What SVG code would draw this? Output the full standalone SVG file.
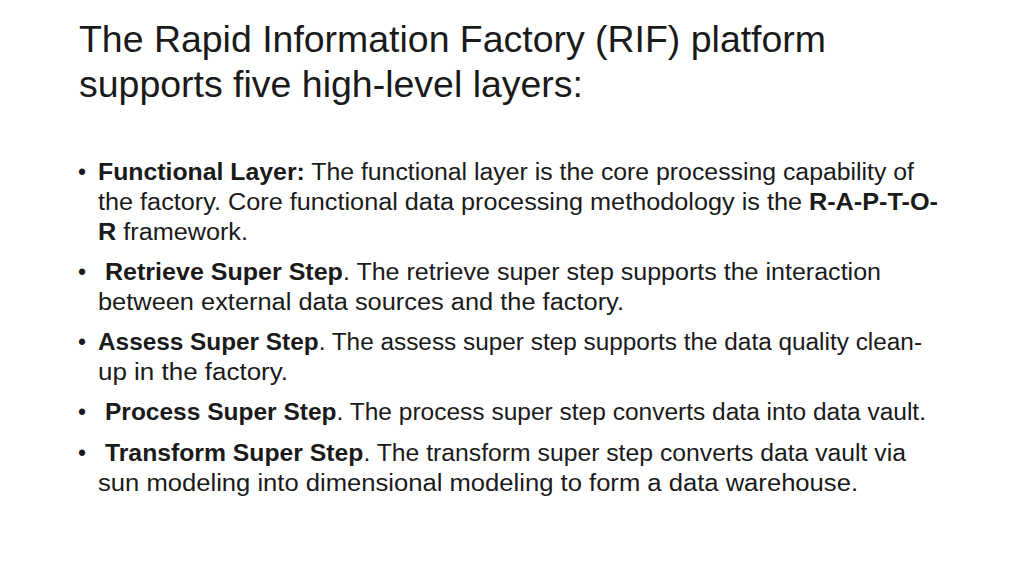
<svg xmlns="http://www.w3.org/2000/svg" width="1024" height="576" viewBox="0 0 1024 576">
<style>
text{font-family:"Liberation Sans",Arial,sans-serif;fill:#1a1a1a}
.t{font-size:36px}
.b{font-size:23px}
.k{font-weight:bold}
</style>
<rect width="1024" height="576" fill="#fff"/>
<g id="title">
<text class="t" x="79" y="52" textLength="747" lengthAdjust="spacingAndGlyphs">The Rapid Information Factory (RIF) platform</text>
<text class="t" x="79" y="97" textLength="504" lengthAdjust="spacingAndGlyphs">supports five high-level layers:</text>
</g>
<g id="bullets">
<text class="b" x="78" y="180">•</text>
<text class="b" x="78" y="280">•</text>
<text class="b" x="78" y="350">•</text>
<text class="b" x="78" y="420">•</text>
<text class="b" x="78" y="461">•</text>
</g>
<g id="body">
<text class="b" x="98" y="180" textLength="816" lengthAdjust="spacingAndGlyphs"><tspan class="k">Functional Layer:</tspan> The functional layer is the core processing capability of</text>
<text class="b" x="98" y="210" textLength="840" lengthAdjust="spacingAndGlyphs">the factory. Core functional data processing methodology is the <tspan class="k">R-A-P-T-O-</tspan></text>
<text class="b" x="98" y="240" textLength="150" lengthAdjust="spacingAndGlyphs"><tspan class="k">R</tspan> framework.</text>
<text class="b" x="105" y="280" textLength="776" lengthAdjust="spacingAndGlyphs"><tspan class="k">Retrieve Super Step</tspan>. The retrieve super step supports the interaction</text>
<text class="b" x="98" y="310" textLength="526" lengthAdjust="spacingAndGlyphs">between external data sources and the factory.</text>
<text class="b" x="98" y="350" textLength="824" lengthAdjust="spacingAndGlyphs"><tspan class="k">Assess Super Step</tspan>. The assess super step supports the data quality clean-</text>
<text class="b" x="98" y="380" textLength="190" lengthAdjust="spacingAndGlyphs">up in the factory.</text>
<text class="b" x="105" y="420" textLength="821" lengthAdjust="spacingAndGlyphs"><tspan class="k">Process Super Step</tspan>. The process super step converts data into data vault.</text>
<text class="b" x="105" y="461" textLength="801" lengthAdjust="spacingAndGlyphs"><tspan class="k">Transform Super Step</tspan>. The transform super step converts data vault via</text>
<text class="b" x="98" y="491" textLength="760" lengthAdjust="spacingAndGlyphs">sun modeling into dimensional modeling to form a data warehouse.</text>
</g>
</svg>
